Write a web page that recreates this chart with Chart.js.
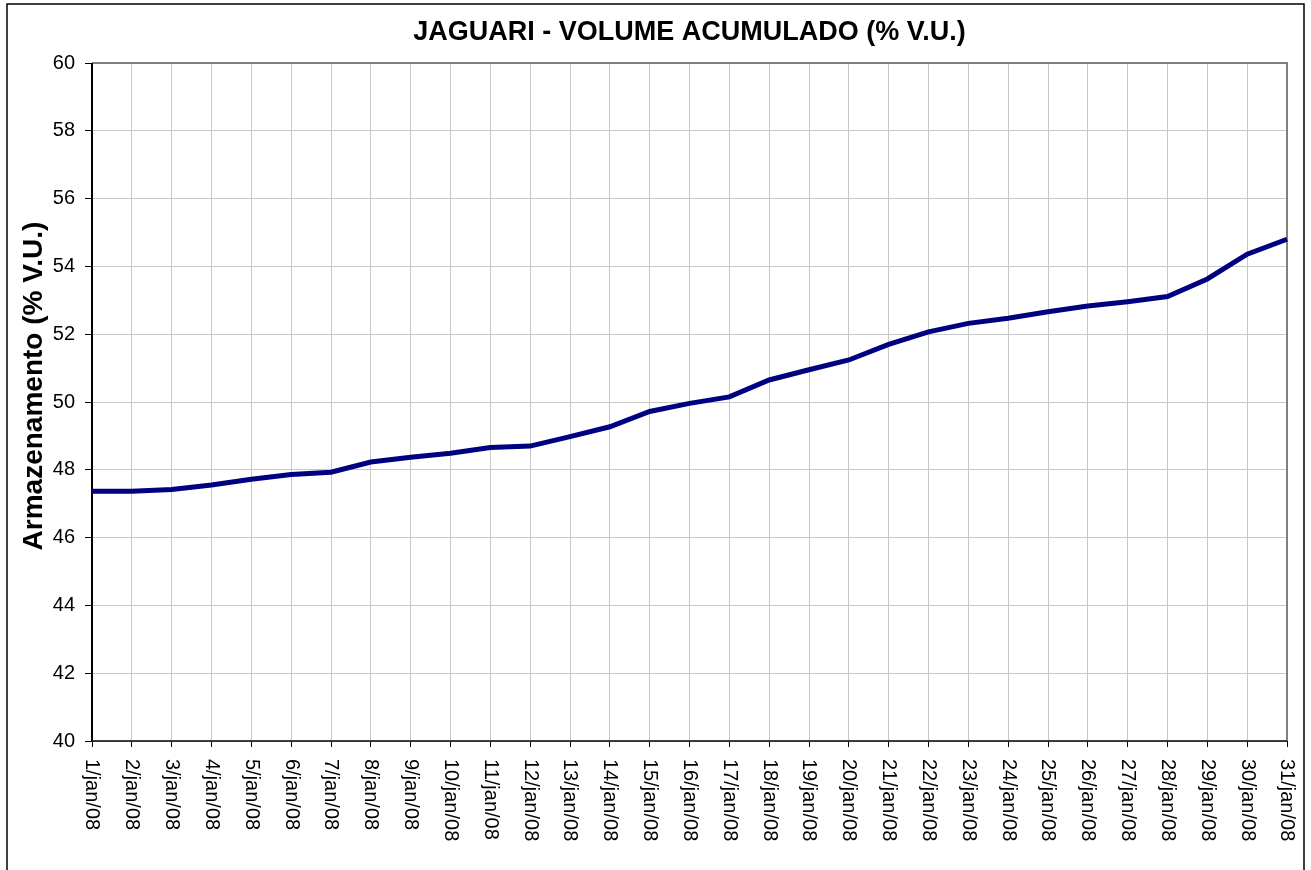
<!DOCTYPE html>
<html>
<head>
<meta charset="utf-8">
<script src="https://cdn.jsdelivr.net/npm/chart.js@4/dist/chart.umd.min.js"></script>
<style>
  html, body { margin: 0; padding: 0; background: #fff; }
  #wrap { width: 1311px; height: 870px; position: relative; }
</style>
</head>
<body>
<div id="wrap"><canvas id="myChart"></canvas></div>
<script>
var days = [];
for (var d = 1; d <= 31; d++) days.push(d + "/jan/08");

var volume = [47.37, 47.37, 47.42, 47.55, 47.72, 47.86, 47.93, 48.23, 48.37, 48.49,
  48.66, 48.70, 48.98, 49.27, 49.72, 49.96, 50.15, 50.65, 50.95, 51.24,
  51.70, 52.07, 52.32, 52.47, 52.66, 52.83, 52.96, 53.11, 53.63, 54.36, 54.80];

var yTicks = [40, 42, 44, 46, 48, 50, 52, 54, 56, 58, 60];

var chartTitle = "JAGUARI - VOLUME ACUMULADO (% V.U.)";
var yTitle = "Armazenamento (% V.U.)";

var font = "'Liberation Sans', Arial, sans-serif";

// frame, plot border, titles and top-to-bottom x labels
var decor = {
  id: "decor",
  beforeDatasetsDraw: function (chart) {
    var c = chart.ctx, a = chart.chartArea;
    c.save();
    c.strokeStyle = "#808080";
    c.lineWidth = 2;
    c.beginPath();
    c.moveTo(a.left, a.top);
    c.lineTo(a.right, a.top);
    c.lineTo(a.right, a.bottom);
    c.stroke();
    c.strokeStyle = "#000";
    c.lineWidth = 2;
    c.beginPath();
    c.moveTo(a.left, a.top);
    c.lineTo(a.left, a.bottom);
    c.stroke();
    c.lineWidth = 1.5;
    c.beginPath();
    c.moveTo(a.left, a.bottom);
    c.lineTo(a.right, a.bottom);
    c.stroke();
    c.restore();
  },
  afterDraw: function (chart) {
    var c = chart.ctx, a = chart.chartArea;
    var x = chart.scales.x;
    c.save();
    c.strokeStyle = "#000";
    c.lineWidth = 1.5;
    c.strokeRect(7, 4, 1297, 880);

    c.fillStyle = "#000";
    c.font = "bold 27px " + font;
    c.textAlign = "center";
    c.textBaseline = "middle";
    c.fillText(chartTitle, (a.left + a.right) / 2, 33);

    c.save();
    c.font = "bold 28px " + font;
    c.textAlign = "center";
    c.textBaseline = "alphabetic";
    c.translate(42, 386);
    c.rotate(-Math.PI / 2);
    c.fillText(yTitle, 0, 0);
    c.restore();

    c.font = "20px " + font;
    c.textAlign = "left";
    c.textBaseline = "middle";
    for (var i = 0; i < days.length; i++) {
      c.save();
      c.translate(x.getPixelForValue(i), a.bottom + 18);
      c.rotate(Math.PI / 2);
      c.fillText(days[i], 0, 0);
      c.restore();
    }
    c.restore();
  }
};

var ctx = document.getElementById("myChart");
var myChart = new Chart(ctx, {
  type: "line",
  data: {
    labels: days,
    datasets: [
      {
        label: "Volume",
        data: volume,
        borderColor: "#000080",
        backgroundColor: "#000080",
        borderWidth: 5,
        pointRadius: 0,
        tension: 0,
      },
    ],
  },
  options: {
    responsive: true,
    maintainAspectRatio: false,
    animation: false,
    layout: {
      padding: { top: 63, left: 8, right: 24, bottom: 4 },
    },
    plugins: {
      legend: { display: false },
      title: { display: false },
      tooltip: { enabled: false },
    },
    scales: {
      x: {
        offset: false,
        grid: {
          offset: false,
          color: "#c8c8c8",
          tickColor: "#000",
          tickLength: 6,
        },
        border: { display: false },
        ticks: {
          display: false,
          autoSkip: false,
        },
        afterFit: function (scale) {
          scale.height = 125;
        },
      },
      y: {
        min: 40,
        max: 60,
        afterBuildTicks: function (scale) {
          scale.ticks = yTicks.map(function (v) { return { value: v }; });
        },
        grid: {
          color: "#c8c8c8",
          tickColor: "#000",
          tickLength: 7,
        },
        border: { display: false },
        ticks: {
          color: "#000",
          padding: 10,
          font: { family: font, size: 20 },
        },
        afterFit: function (scale) {
          scale.width = 84;
        },
      },
    },
  },
  plugins: [decor],
});
</script>
</body>
</html>
